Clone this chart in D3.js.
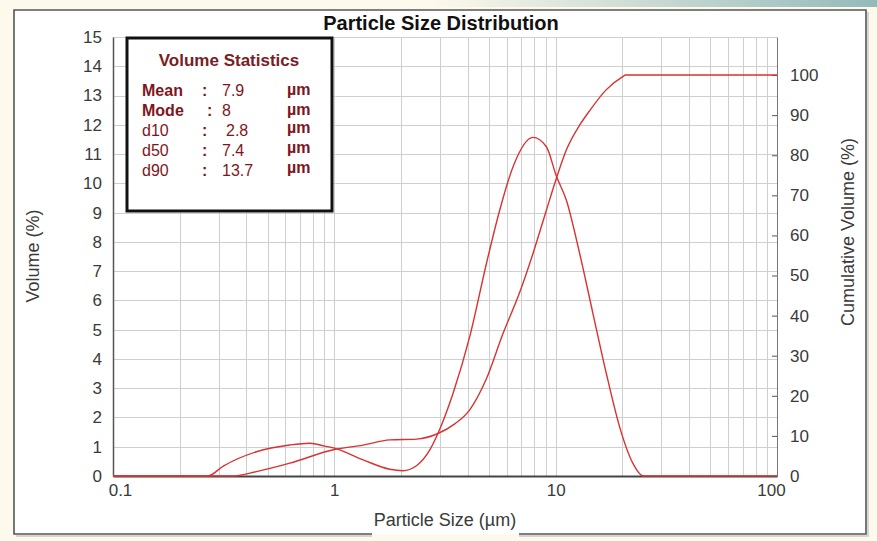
<!DOCTYPE html>
<html>
<head>
<meta charset="utf-8">
<script src="https://cdn.jsdelivr.net/npm/d3@7"></script>
<style>
  body { margin: 0; background: #fdf9ec; }
  svg { display: block; font-family: "Liberation Sans", Arial, sans-serif; }
</style>
</head>
<body>
<div id="chart"></div>
<script>
// frequency curve (volume %)
var freqSize = [0.1, 0.268, 0.315, 0.445, 0.63, 0.775, 0.906, 1.0, 1.35, 1.78, 2.04, 2.35, 2.7, 2.94, 3.44, 4.09, 4.87, 5.59, 6.42, 7.9, 9.08, 10.07, 11.17, 12.83, 14.73, 16.93, 19.45, 22.34, 24.8, 100];
var freqVol  = [0, 0, 0.34, 0.83, 1.06, 1.12, 1.02, 0.95, 0.55, 0.23, 0.18, 0.35, 0.89, 1.46, 2.83, 4.76, 7.27, 9.09, 10.57, 11.57, 11.25, 10.25, 9.43, 7.61, 5.56, 3.51, 1.68, 0.43, 0, 0];

// cumulative curve (%)
var cumSize = [0.1, 0.35, 0.445, 0.63, 1.0, 1.35, 1.78, 2.35, 2.94, 3.5, 4.09, 4.87, 5.76, 6.88, 7.9, 9.08, 10.07, 11.17, 12.83, 14.2, 16.9, 20.1, 20.7, 100];
var cumVol  = [0, 0, 1.1, 3.2, 6.6, 7.7, 9.0, 9.2, 10.6, 13.0, 16.5, 24.3, 35.3, 45.8, 55.5, 66.3, 74.2, 81.3, 87.5, 91.0, 96.3, 99.6, 100, 100];

var xTicks = [0.1, 1, 10, 100];
var xTickText = ["0.1", "1", "10", "100"];
var statLabels = ["Mean", "Mode", "d10", "d50", "d90"];
var statValues = ["7.9", "8", "2.8", "7.4", "13.7"];
var statUnit = "\u00b5m";

var width = 877, height = 541;
var pLeft = 113, pRight = 777, pTop = 37, pBottom = 476;
var red = "#d83232", textCol = "#3a3a3a";

var svg = d3.select("#chart").append("svg")
  .attr("width", width)
  .attr("height", height);

// page + teal strip at top right
var grad = svg.append("defs").append("linearGradient").attr("id", "strip");
grad.append("stop").attr("offset", "0%").attr("stop-color", "#fdf9ec");
grad.append("stop").attr("offset", "100%").attr("stop-color", "#93baba");
svg.append("rect").attr("width", width).attr("height", height).attr("fill", "#fdf9ec");
svg.append("rect").attr("x", 430).attr("y", 0).attr("width", 447).attr("height", 7).attr("fill", "url(#strip)");

// outer frame, open at the bottom for the x title
svg.append("rect").attr("x", 14).attr("y", 10).attr("width", 852).attr("height", 524).attr("fill", "#fff");
svg.append("path")
  .attr("d", "M372,536 H16 M868,12 V536 H519")
  .attr("fill", "none").attr("stroke", "#c9c9c9").attr("stroke-width", 1.5);
svg.append("path")
  .attr("d", "M372,534 H14 V10 H866 V534 H519")
  .attr("fill", "none").attr("stroke", "#555").attr("stroke-width", 1.6);

var x = d3.scaleLog().domain([0.1, 100]).range([pLeft, pRight]);
var yL = d3.scaleLinear().domain([0, 15]).range([pBottom, pTop]);
var yR = d3.scaleLinear().domain([0, 1500 / 13.7]).range([pBottom, pTop]);

// grid
var grid = svg.append("g").attr("stroke", "#cfcfcf").attr("stroke-width", 1);
grid.selectAll(".gx")
  .data(x.ticks().filter(function(d) { return d > 0.1 && d < 100; }))
  .enter().append("line")
  .attr("x1", function(d) { return Math.round(x(d)) + 0.5; })
  .attr("x2", function(d) { return Math.round(x(d)) + 0.5; })
  .attr("y1", pTop).attr("y2", pBottom);
grid.selectAll(".gy")
  .data(yL.ticks(15).filter(function(d) { return d > 0; }))
  .enter().append("line")
  .attr("x1", pLeft).attr("x2", pRight)
  .attr("y1", function(d) { return Math.round(yL(d)) + 0.5; })
  .attr("y2", function(d) { return Math.round(yL(d)) + 0.5; });

// axes
var axL = svg.append("g").attr("transform", "translate(" + pLeft + ",0)")
  .call(d3.axisLeft(yL).ticks(15).tickSize(0).tickPadding(11));
var axR = svg.append("g").attr("transform", "translate(" + pRight + ",0)")
  .call(d3.axisRight(yR).tickValues(d3.range(0, 101, 10)).tickSizeInner(-5).tickSizeOuter(0).tickPadding(13));
var axB = svg.append("g").attr("transform", "translate(0," + pBottom + ")")
  .call(d3.axisBottom(x).tickValues(xTicks).tickFormat(function(d, i) { return xTickText[i]; })
    .tickSize(0).tickPadding(8));

[axL, axR, axB].forEach(function(a) {
  a.attr("font-family", null).attr("font-size", null);
  a.selectAll("text").attr("fill", textCol).style("font-size", "17px");
  a.selectAll(".tick line").attr("stroke", "#555");
});
axL.select(".domain").attr("stroke", "#555").attr("stroke-width", 1.5);
axR.select(".domain").attr("stroke", "#777").attr("stroke-width", 1);
axB.select(".domain").attr("stroke", "#444").attr("stroke-width", 2.2);
axB.selectAll("text").attr("dx", function(d) { return d === 0.1 ? 7 : d === 100 ? -6 : 0; });

// curves
var line = d3.line().curve(d3.curveMonotoneX);
svg.append("path")
  .attr("d", line(freqSize.map(function(s, i) { return [x(s), yL(freqVol[i])]; })))
  .attr("fill", "none").attr("stroke", red).attr("stroke-width", 1.4);
svg.append("path")
  .attr("d", line(cumSize.map(function(s, i) { return [x(s), yR(cumVol[i])]; })))
  .attr("fill", "none").attr("stroke", red).attr("stroke-width", 1.4);

// titles
svg.append("text").attr("x", 441).attr("y", 30).attr("text-anchor", "middle")
  .style("font-size", "20px").style("font-weight", "bold").attr("fill", "#111")
  .text("Particle Size Distribution");
svg.append("text").attr("x", 445).attr("y", 526).attr("text-anchor", "middle")
  .style("font-size", "18px").attr("fill", textCol)
  .text("Particle Size (\u00b5m)");
svg.append("text").attr("transform", "translate(39,256)rotate(-90)").attr("text-anchor", "middle")
  .style("font-size", "18px").attr("fill", textCol)
  .text("Volume (%)");
svg.append("text").attr("transform", "translate(854,232)rotate(-90)").attr("text-anchor", "middle")
  .style("font-size", "18px").attr("fill", textCol)
  .text("Cumulative Volume (%)");

// stats box
var box = svg.append("g");
box.append("rect").attr("x", 127).attr("y", 38).attr("width", 205).attr("height", 173)
  .attr("fill", "#fff").attr("stroke", "#111").attr("stroke-width", 3);
box.append("text").attr("x", 229).attr("y", 66).attr("text-anchor", "middle")
  .style("font-size", "17px").style("font-weight", "bold").attr("fill", "#7a2024")
  .text("Volume Statistics");

var rows = box.selectAll(".row").data(statLabels).enter().append("g")
  .attr("transform", function(d, i) { return "translate(0," + (96 + i * 20) + ")"; })
  .attr("fill", "#80161c").style("font-size", "16px");
rows.append("text").attr("x", 142)
  .style("font-weight", function(d, i) { return i < 2 ? "bold" : "normal"; })
  .text(function(d) { return d; });
rows.append("text").attr("x", function(d, i) { return i === 1 ? 207 : 202; })
  .style("font-weight", "bold").text(":");
rows.append("text").attr("x", function(d, i) { return i === 2 ? 226 : 222; })
  .text(function(d, i) { return statValues[i]; });
rows.append("text").attr("x", 287).attr("y", function(d, i) { return i < 2 ? -1 : -3; })
  .style("font-weight", "bold").text(statUnit);
</script>
</body>
</html>
